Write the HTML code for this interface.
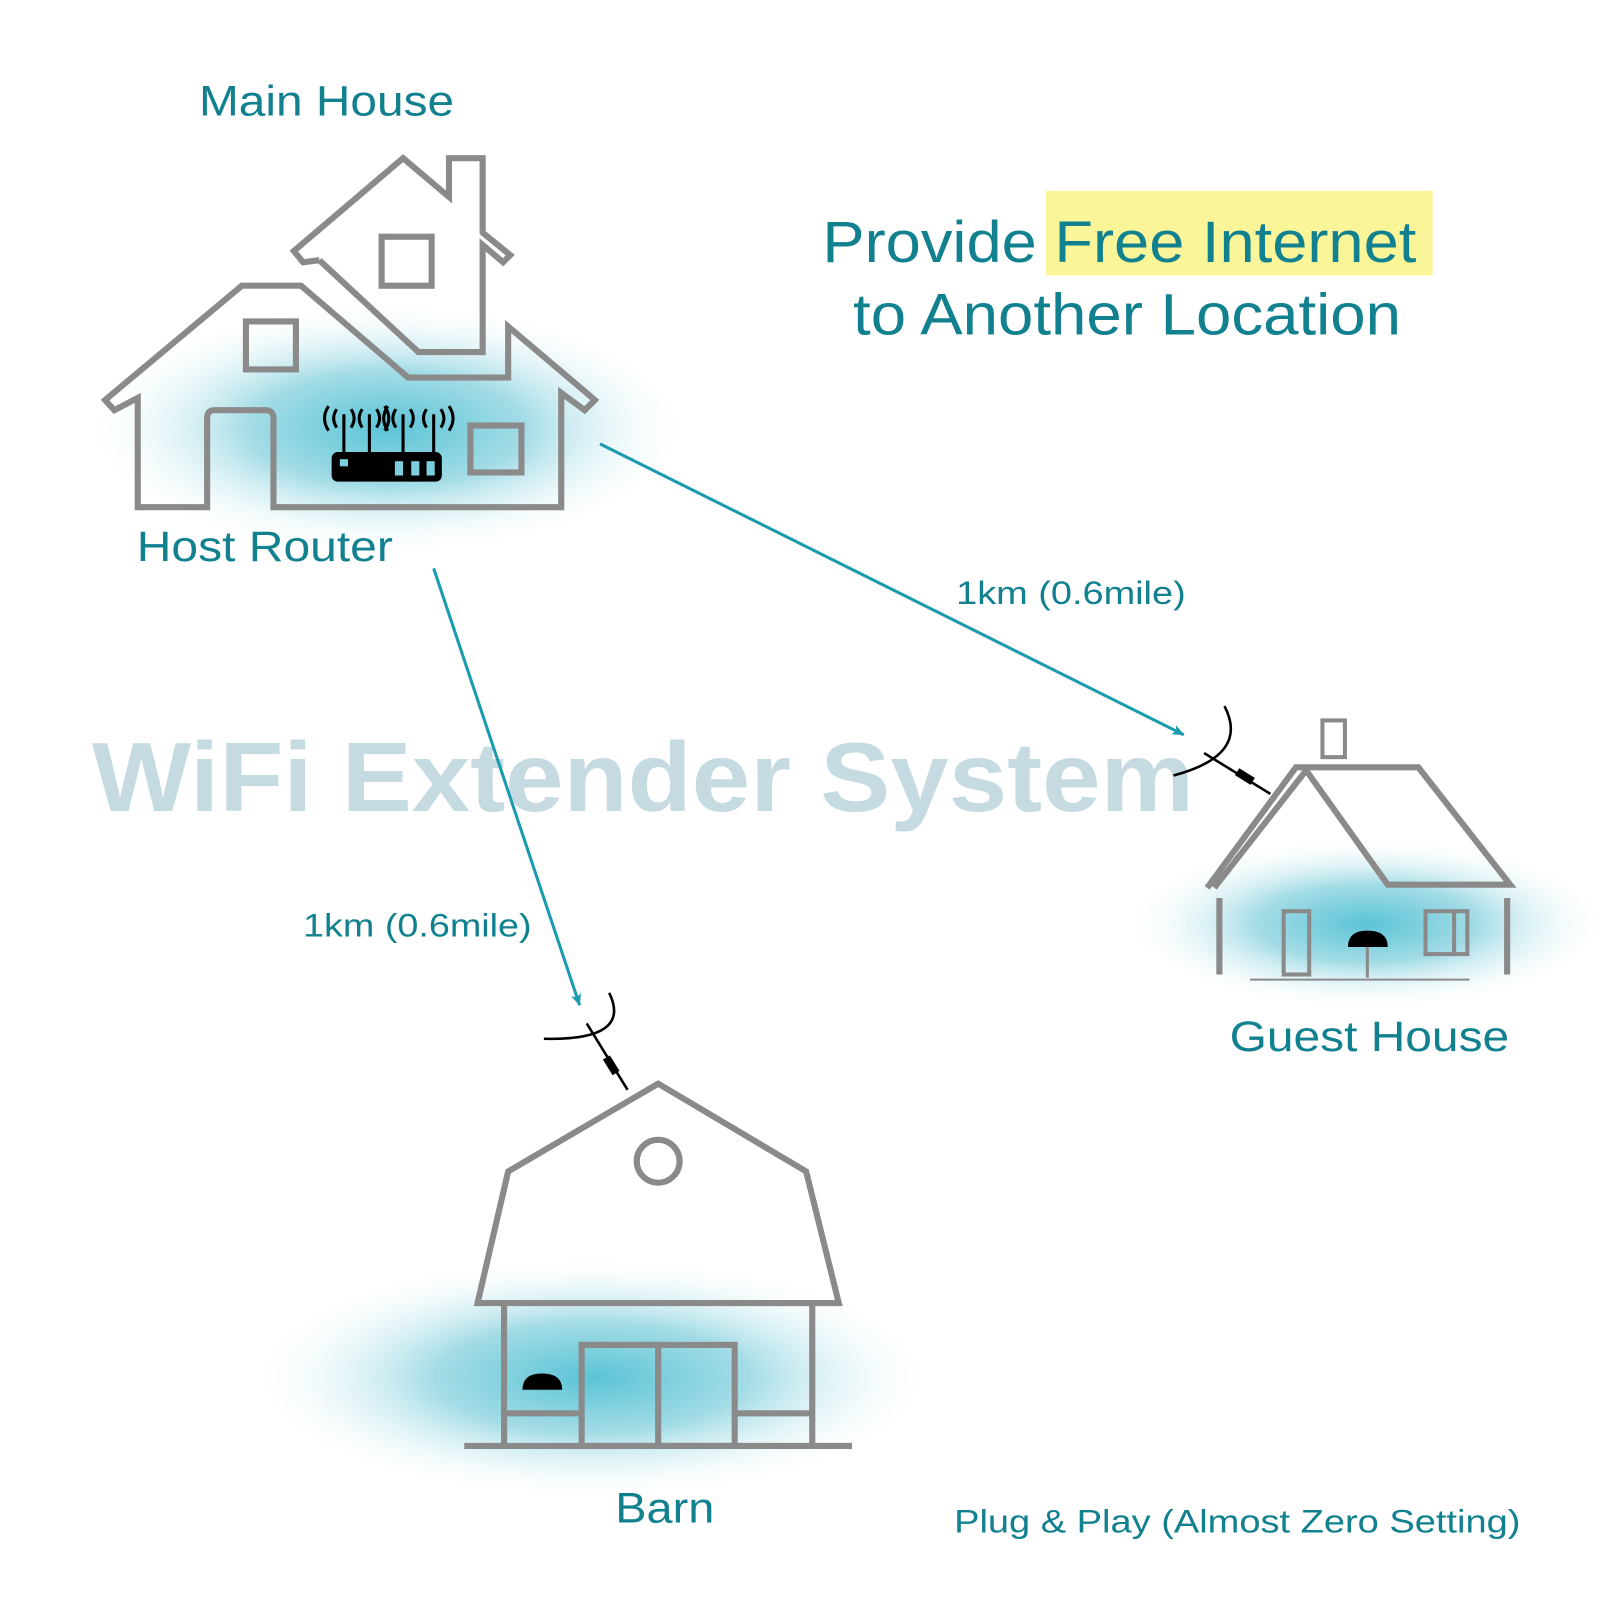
<!DOCTYPE html>
<html><head><meta charset="utf-8"><style>html,body{margin:0;padding:0;background:#fff}svg{display:block}</style></head>
<body>
<svg width="1600" height="1600" viewBox="0 0 1568 1568" xmlns="http://www.w3.org/2000/svg" font-family="Liberation Sans, sans-serif">
<defs>
<radialGradient id="g"><stop offset="0" stop-color="#5bc4d6"/><stop offset="0.45" stop-color="#a3dce6"/><stop offset="1" stop-color="#fff" stop-opacity="0"/></radialGradient>
<marker id="ah" markerWidth="12" markerHeight="10" refX="11" refY="5" orient="auto" markerUnits="userSpaceOnUse"><path d="M0,0 L12,5 L0,10 L3,5z" fill="#1a9bb0"/></marker>
</defs>
<rect width="1568" height="1568" fill="#fff"/>
<ellipse cx="380" cy="420" rx="300" ry="125" fill="url(#g)"/>
<ellipse cx="1340" cy="905" rx="240" ry="85" fill="url(#g)"/>
<ellipse cx="580" cy="1350" rx="340" ry="120" fill="url(#g)"/>

<text x="90" y="795" font-size="96" font-weight="bold" fill="#c5dbe1" textLength="1080" lengthAdjust="spacingAndGlyphs">WiFi Extender System</text>

<g fill="none" stroke="#8a8a8a" stroke-width="6" stroke-linejoin="miter">
<path d="M135,497 L135,390 L112,402 L103,392 L237,280 L295,280 L400,370 L498,370 L498,320 L583,392 L573,402 L550,385 L550,497 L268,497 L268,410 Q268,402 260,402 L210,402 Q203,402 203,410 L203,497 Z"/>
<rect x="241" y="315" width="49" height="47"/>
<rect x="461" y="417" width="50" height="46"/>
<path d="M313,255 L297,257 L288,246 L395,155 L440,193 L440,155 L473,155 L473,228 L500,250 L493,257 L473,240 L473,345 L410,345 L313,255"/>
<rect x="374" y="232" width="49" height="48"/>
<rect x="1296" y="706" width="22" height="36" stroke-width="4"/>
<path d="M1190,870 L1280,755 L1360,867 L1480,867 L1390,752 L1270,752 L1183,870" />
<path d="M1195,880 L1195,955 M1477,880 L1477,955"/>
<path d="M1225,960 L1440,960" stroke-width="2"/>
<rect x="1258" y="893" width="25" height="62" stroke-width="4"/>
<rect x="1397" y="893" width="41" height="42" stroke-width="4"/>
<path d="M1425,893 L1425,935" stroke-width="4"/>
<path d="M1340,925 L1340,958" stroke-width="3"/>
<path d="M468,1277 L498,1148 L645,1062 L790,1148 L822,1277 Z"/>
<circle cx="645" cy="1138" r="21"/>
<path d="M494,1277 L494,1417 M796,1277 L796,1417"/>
<path d="M455,1417 L835,1417"/>
<rect x="570" y="1318" width="150" height="99"/>
<path d="M645,1318 L645,1417 M494,1385 L570,1385 M720,1385 L796,1385"/>
</g>

<!-- router -->
<g fill="#000">
<rect x="325" y="443" width="108" height="29" rx="6"/>
<rect x="333" y="450" width="8" height="7" fill="#7ccfdc"/>
<rect x="387" y="452" width="8" height="14" fill="#7ccfdc"/>
<rect x="403" y="452" width="8" height="14" fill="#7ccfdc"/>
<rect x="418" y="452" width="8" height="14" fill="#7ccfdc"/>
</g>
<g stroke="#000" stroke-width="3" fill="none">
<path d="M337,443 L337,406 M362,443 L362,406 M395,443 L395,406 M425,443 L425,406"/>
<path d="M330,401 Q324,410 330,419 M344,401 Q350,410 344,419 M355,401 Q349,410 355,419 M369,401 Q375,410 369,419 M388,401 Q382,410 388,419 M402,401 Q408,410 402,419 M418,401 Q412,410 418,419 M432,401 Q438,410 432,419"/>
<path d="M322,398 Q314,410 322,422 M377,398 Q385,410 377,422 M380,398 Q372,410 380,422 M440,398 Q448,410 440,422"/>
</g>
<!-- devices -->
<path d="M1321,928 Q1321,912 1340,912 Q1360,912 1360,928 Z" fill="#000"/>
<path d="M512,1362 Q512,1346 531,1346 Q551,1346 551,1362 Z" fill="#000"/>
<!-- antennas -->
<g stroke="#000" stroke-width="2.5" fill="none">
<path d="M1200,692 Q1225,740 1150,760"/>
<path d="M1180,738 L1245,778"/>
<path d="M597,973 Q620,1020 533,1018"/>
<path d="M575,1003 L615,1068"/>
</g>
<rect x="1216" y="752" width="8" height="18" fill="#000" transform="rotate(-58 1220 761)"/>
<rect x="595" y="1035" width="8" height="18" fill="#000" transform="rotate(-32 599 1044)"/>

<g stroke="#1a9bb0" stroke-width="3" marker-end="url(#ah)">
<line x1="588" y1="435" x2="1160" y2="720"/>
<line x1="425" y1="557" x2="568" y2="985"/>
</g>

<rect x="1025" y="187" width="379" height="83" fill="#fbf59a"/>
<g fill="#11808f" lengthAdjust="spacingAndGlyphs">
<text x="195" y="113" font-size="42" textLength="250" lengthAdjust="spacingAndGlyphs">Main House</text>
<text x="134" y="550" font-size="42" textLength="251" lengthAdjust="spacingAndGlyphs">Host Router</text>
<text x="806" y="257" font-size="57" textLength="582" lengthAdjust="spacingAndGlyphs">Provide Free Internet</text>
<text x="836" y="328" font-size="57" textLength="537" lengthAdjust="spacingAndGlyphs">to Another Location</text>
<text x="937" y="592" font-size="32" textLength="225" lengthAdjust="spacingAndGlyphs">1km (0.6mile)</text>
<text x="297" y="918" font-size="32" textLength="224" lengthAdjust="spacingAndGlyphs">1km (0.6mile)</text>
<text x="1205" y="1030" font-size="42" textLength="274" lengthAdjust="spacingAndGlyphs">Guest House</text>
<text x="603" y="1492" font-size="42" textLength="97" lengthAdjust="spacingAndGlyphs">Barn</text>
<text x="935" y="1502" font-size="32" textLength="555" lengthAdjust="spacingAndGlyphs">Plug &amp; Play (Almost Zero Setting)</text>
</g>
</svg>
</body></html>
